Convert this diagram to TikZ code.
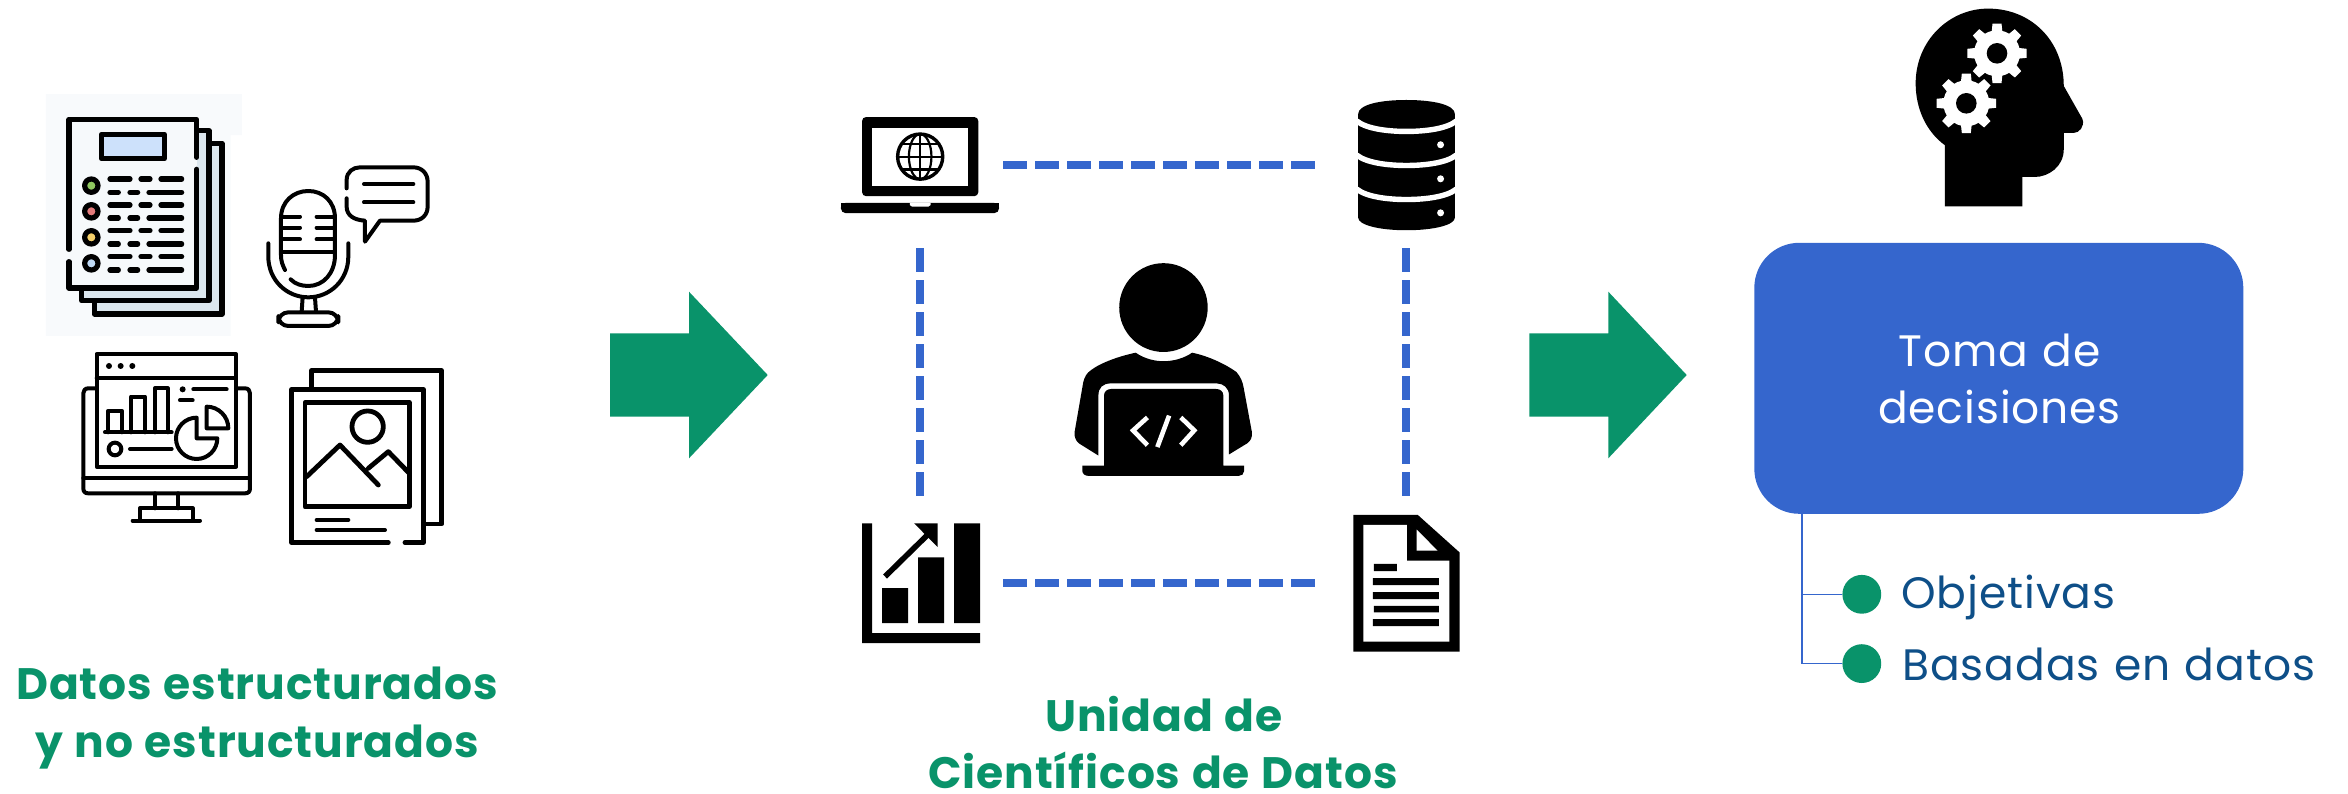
\documentclass[tikz,border=0pt]{standalone}
\usepackage{fontspec}
\setmainfont{Open Sans}
\newfontfamily\labelfont[LetterSpace=2,WordSpace=1.2]{Poppins}
\newfontfamily\boldfont[LetterSpace=2,WordSpace=1.15]{Poppins}
\definecolor{brandgreen}{HTML}{09936A}
\definecolor{brandblue}{HTML}{3566CD}
\definecolor{textblue}{HTML}{0E4F88}
\definecolor{pagebg}{HTML}{F8FAFC}
\definecolor{sheetfill}{HTML}{F6F9FB}
\definecolor{sheetback}{HTML}{DCE7EE}
\definecolor{chipblue}{HTML}{CDE1FB}
\tikzset{
  px/.style={x=0.5pt,y=-0.5pt},
  zoomA/.style={shift={(0,80)},x=0.5pt/3,y=-0.5pt/3},
  zoomB/.style={shift={(820,90)},x=0.5pt/2.306,y=-0.5pt/2.703},
  zoomC/.style={shift={(1740,0)},x=0.5pt/2.579,y=-0.5pt/1.977},
  ink/.style={draw=black,line width=2.6pt,line cap=round,line join=round},
  thin ink/.style={draw=black,line width=2pt,line cap=round,line join=round},
  dashline/.style={draw=brandblue,line width=4pt,dash pattern=on 12pt off 4pt},
  bigarrow/.style={fill=brandgreen},
  heading/.style={text=brandgreen,font=\boldfont\bfseries\fontsize{22}{28}\selectfont,inner sep=0pt,anchor=base},
  item/.style={text=textblue,font=\labelfont\fontsize{22}{26}\selectfont,anchor=base west,inner sep=0pt},
  boxtext/.style={text=white,font=\labelfont\fontsize{22}{26}\selectfont,anchor=base,inner sep=0pt},
  dot/.style={circle,fill=brandgreen,minimum size=19.4pt,inner sep=0pt},
  decisionbox/.style={fill=brandblue,rounded corners=22.5pt},
  tree/.style={draw=brandblue,line width=0.8pt},
}
\begin{document}
\begin{tikzpicture}[px]
\useasboundingbox (0,0) rectangle (2348,793);
% --- source icons
\begin{scope}[zoomA]
\fill[pagebg] (138,42) -- (726,42) -- (726,165) -- (692,165) -- (692,768) -- (138,768) -- cycle;
\filldraw[fill=sheetback,ink] (283,660) -- (283,702) -- (666,702) -- (666,190) -- (627,190);
\filldraw[fill=sheetback,ink] (245,624) -- (245,662) -- (627,662) -- (627,152) -- (590,152);
\fill[sheetfill] (207,118) rectangle (590,624);
\draw[ink] (590,232) -- (590,118) -- (207,118) -- (207,508);
\draw[ink] (207,545) -- (207,624) -- (590,624) -- (590,268) ;
\filldraw[fill=chipblue,ink] (304,163) rectangle (493,236);
\foreach \yy/\cc in {317/8FC75F,394/E37B7B,472/F5D06A,550/BFD9F5}{
  \definecolor{cc}{HTML}{\cc}
  \filldraw[fill=cc,ink] (274,\yy) ellipse [radius=20];
}
\foreach \yy in {297,375,452,530}{
  \draw[ink] (330,\yy) -- (390,\yy) (423,\yy) -- (450,\yy) (483,\yy) -- (545,\yy);
}
\foreach \yy in {337,414,492,570}{
  \draw[ink] (330,\yy) -- (355,\yy) (390,\yy) -- (413,\yy) (447,\yy) -- (545,\yy);
}
% microphone
\draw[thin ink] (855,570) .. controls (848,555) and (843,545) .. (843,525) -- (843,415) .. controls (843,365) and (880,333) .. (925,333) .. controls (970,333) and (1005,365) .. (1005,415) -- (1005,525) .. controls (1005,580) and (970,618) .. (925,618) .. controls (905,618) and (885,612) .. (872,598);
\draw[thin ink] (805,490) -- (805,530) .. controls (805,600) and (860,652) .. (925,652) .. controls (990,652) and (1045,600) .. (1045,530) -- (1045,490);
\draw[thin ink] (845,515) -- (1003,515);
\foreach \yy in {410,443,478}{\draw[thin ink] (845,\yy) -- (900,\yy) (950,\yy) -- (1003,\yy);}
\draw[thin ink] (908,652) -- (905,695) (945,652) -- (948,695);
\draw[thin ink,rounded corners=5pt] (835,697) rectangle (1015,738);
\draw[thin ink] (1040,325) -- (1040,300) .. controls (1040,275) and (1060,262) .. (1080,262) -- (1240,262) .. controls (1265,262) and (1283,280) .. (1283,305) -- (1283,380) .. controls (1283,405) and (1265,422) .. (1240,422) -- (1140,422) -- (1095,485) -- (1095,422) .. controls (1060,420) and (1040,405) .. (1040,380) -- (1040,355);
\draw[thin ink] (1092,312) -- (1240,312) (1092,367) -- (1240,367);
% dashboard monitor
\draw[thin ink] (290,925) -- (265,925) .. controls (255,925) and (250,932) .. (250,940) -- (250,1225) .. controls (250,1235) and (255,1240) .. (265,1240) -- (735,1240) .. controls (745,1240) and (750,1235) .. (750,1225) -- (750,940) .. controls (750,932) and (745,925) .. (735,925) -- (708,925);
\draw[thin ink] (250,1195) -- (750,1195);
\draw[thin ink] (290,822) rectangle (708,1160);
\draw[thin ink] (290,895) -- (708,895);
\foreach \xx in {327,362,397}{\fill (\xx,858) circle [radius=9];}
\draw[thin ink] (325,1057) -- (325,992) -- (365,992) -- (365,1057) (393,1057) -- (393,950) -- (435,950) -- (435,1057) (465,1057) -- (465,925) -- (503,925) -- (503,1057);
\draw[thin ink] (315,1057) -- (515,1057);
\draw[thin ink] (345,1107) circle [radius=19];
\draw[thin ink] (390,1107) -- (515,1107);
\draw[thin ink] (590,1013) arc [start angle=-90,end angle=-360,radius=62] -- (590,1075) -- cycle;
\draw[thin ink] (620,982) -- (620,1045) -- (685,1045) arc [start angle=0,end angle=-90,radius=65] -- cycle;
\fill (548,928) circle [radius=9];
\draw[thin ink] (580,928) -- (680,928) (540,961) -- (578,961);
\draw[thin ink] (465,1240) -- (465,1285) (535,1240) -- (535,1285);
\draw[thin ink] (420,1322) -- (420,1285) -- (578,1285) -- (578,1322);
\draw[thin ink] (398,1322) -- (600,1322);
% image stack
\draw[ink,line width=2.4pt] (935,928) -- (935,872) -- (1325,872) -- (1325,1332) -- (1272,1332);
\draw[ink,line width=2.4pt] (1165,1388) -- (875,1388) -- (875,928) -- (1270,928) -- (1270,1388) -- (1215,1388);
\draw[ink,line width=2.4pt] (915,968) rectangle (1228,1280);
\draw[ink,line width=2.4pt] (1103,1040) circle [radius=47];
\draw[ink,line width=2.4pt] (920,1190) -- (1020,1095) -- (1135,1215) (1105,1165) -- (1165,1115) -- (1228,1180);
\draw[thin ink] (950,1320) -- (1045,1320) (950,1350) -- (1155,1350);
\end{scope}
% --- arrows
\fill[bigarrow] (610,333.3) -- (689,333.3) -- (689,291.7) -- (767.7,375) -- (689,458.3) -- (689,416.7) -- (610,416.7) -- cycle;
\fill[bigarrow] (1529.3,333.3) -- (1608.3,333.3) -- (1608.3,291.7) -- (1686.7,375) -- (1608.3,458.3) -- (1608.3,416.7) -- (1529.3,416.7) -- cycle;
% --- centre icons
\begin{scope}[zoomB]
% laptop
\fill[rounded corners=2pt] (97,287) -- (97,73) -- (365,73) -- (365,287) -- cycle;
\fill[white] (120,102) rectangle (342,259);
\draw[line width=1.7pt] (231,180) ellipse [x radius=52,y radius=61];
\draw[line width=1.1pt] (231,180) ellipse [x radius=26,y radius=61];
\draw[line width=1.1pt] (231,119) -- (231,241) (180,180) -- (282,180) (190,145) -- (272,145) (190,215) -- (272,215);
\fill[rounded corners=2.5pt] (48,305) -- (413,305) -- (413,333) -- (48,333) -- cycle;
\fill (48,305) rectangle (413,318);
\fill[white] (207,305) -- (255,305) -- (255,311) -- (250,315) -- (212,315) -- (207,311) -- cycle;
% database
\fill (1241,65) -- (1241,345) .. controls (1241,365) and (1290,379) .. (1352,379) .. controls (1415,379) and (1464,365) .. (1464,345) -- (1464,65) .. controls (1464,40) and (1415,27) .. (1352,27) .. controls (1290,27) and (1241,40) .. (1241,65) -- cycle;
\foreach \dd in {0,92,184}{
  \draw[white,line width=2.7pt] (1238,\the\numexpr 84+\dd\relax) .. controls (1260,\the\numexpr 105+\dd\relax) and (1310,\the\numexpr 112+\dd\relax) .. (1352,\the\numexpr 112+\dd\relax) .. controls (1395,\the\numexpr 112+\dd\relax) and (1445,\the\numexpr 105+\dd\relax) .. (1467,\the\numexpr 84+\dd\relax);
  \fill[white] (1431,\the\numexpr 148+\dd\relax) ellipse [x radius=8,y radius=9.5];
}
% person
\fill (792,588) ellipse [x radius=102,y radius=120];
\fill (728,710) .. controls (750,728) and (775,733) .. (792,733) .. controls (815,733) and (840,725) .. (858,710) .. controls (900,720) and (940,745) .. (960,762) .. controls (970,775) and (975,790) .. (977,805) -- (996,925) .. controls (997,940) and (993,948) .. (985,955) -- (943,985) -- (943,825) .. controls (943,805) and (930,793) .. (915,793) -- (670,793) .. controls (652,793) and (642,805) .. (642,825) -- (642,988) -- (597,955) .. controls (590,948) and (586,938) .. (587,925) -- (607,790) .. controls (610,775) and (615,765) .. (625,757) .. controls (650,735) and (695,718) .. (728,710) -- cycle;
\fill (655,1015) -- (655,825) .. controls (655,815) and (662,808) .. (672,808) -- (913,808) .. controls (923,808) and (930,815) .. (930,825) -- (930,1015) -- (978,1015) -- (978,1030) .. controls (978,1038) and (972,1043) .. (965,1043) -- (620,1043) .. controls (612,1043) and (605,1038) .. (605,1030) -- (605,1015) -- cycle;
\draw[white,line width=2.3pt] (755,885) -- (722,920) -- (755,960) (832,885) -- (863,920) -- (832,960) (805,880) -- (778,965);
% chart
\fill (97,1171) -- (120,1171) -- (120,1468) -- (369,1468) -- (369,1495) -- (97,1495) -- cycle;
\fill (143,1346) rectangle (203,1441) (226,1263) rectangle (286,1441) (309,1171) rectangle (369,1441);
\draw[line width=2.8pt] (150,1315) -- (250,1200);
\fill (217,1171) -- (271,1171) -- (271,1235) -- cycle;
% document
\fill (1230,1148) -- (1378,1148) -- (1475,1250) -- (1475,1518) -- (1230,1518) -- cycle;
\fill[white] (1253,1175) -- (1353,1175) -- (1353,1272) -- (1451,1272) -- (1451,1491) -- (1253,1491) -- cycle;
\fill[white] (1376,1188) -- (1424,1245) -- (1376,1245) -- cycle;
\fill (1277,1281) rectangle (1330,1300) (1275,1319) rectangle (1427,1338) (1275,1357) rectangle (1427,1376) (1277,1394) rectangle (1427,1412) (1275,1430) rectangle (1427,1449);
\end{scope}
% --- dashed square
\coordinate (tl) at (1003,165.1); \coordinate (tr) at (1315.2,165.1);
\coordinate (bl) at (1003,583.2); \coordinate (br) at (1315.2,583.2);
\coordinate (lt) at (919.7,248.3); \coordinate (lb) at (919.7,496.4);
\coordinate (rt) at (1406.3,248.3); \coordinate (rb) at (1406.3,496.4);
\draw[dashline] (tl) -- (tr);
\draw[dashline] (bl) -- (br);
\draw[dashline] (lt) -- (lb);
\draw[dashline] (rt) -- (rb);
% --- decision side
\begin{scope}[zoomC]
\fill (528,408) -- (528,287) .. controls (480,260) and (453,215) .. (453,165) .. controls (453,80) and (540,17) .. (640,17) .. controls (750,17) and (835,80) .. (835,170) -- (883,235) .. controls (890,250) and (875,263) .. (860,263) -- (835,263) -- (835,295) .. controls (835,330) and (795,350) .. (760,350) -- (728,350) -- (728,408) -- cycle;
\end{scope}
\foreach \gx/\gy in {1997/53.3,1966.3/103.3}{
  \fill[white] (\gx,\gy) circle [radius=23];
  \foreach \a in {0,45,...,315}{
    \fill[white,rotate around={\a:(\gx,\gy)}] (\gx+20,\gy-5.5) -- (\gx+29.7,\gy-4.5) -- (\gx+29.7,\gy+4.5) -- (\gx+20,\gy+5.5) -- cycle;
  }
  \fill (\gx,\gy) circle [radius=10.3];
}
\node[decisionbox,minimum width=244.5pt,minimum height=135.5pt] (box) at (1998.8,378.3) {};
\node[boxtext] at (1999.5,366.7) {Toma de};
\node[boxtext] at (1999.5,423.9) {decisiones};
\node[dot] (d1) at (1861.8,594.3) {};
\node[dot] (d2) at (1861.8,663.6) {};
\coordinate (root) at (1801.7,513.8);
\draw[tree] (root) |- (d1.west);
\draw[tree] (root) |- (d2.west);
\node[item] at (1901,608) {Objetivas};
\node[item] at (1902,680.3) {Basadas en datos};
\node[heading] at (257,699) {Datos estructurados};
\node[heading] at (257,757) {y no estructurados};
\node[heading] at (1164,731.7) {Unidad de};
\node[heading] at (1163,788) {Científicos de Datos};
\end{tikzpicture}
\end{document}
